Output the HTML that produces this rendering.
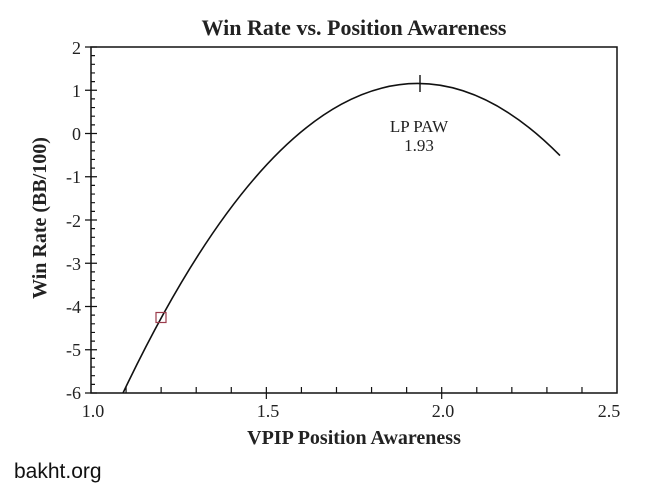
<!DOCTYPE html>
<html><head><style>body{margin:0;background:#fff}svg{display:block}</style></head><body>
<svg width="650" height="492" viewBox="0 0 650 492" xmlns="http://www.w3.org/2000/svg">
<rect width="650" height="492" fill="#fff"/>
<text x="354" y="35" font-family="Liberation Serif" font-weight="bold" font-size="22" text-anchor="middle" fill="#222">Win Rate vs. Position Awareness</text>
<rect x="91" y="47" width="526" height="346" fill="none" stroke="#111" stroke-width="1.5"/>
<g stroke="#111" stroke-width="1.2">
<path d="M85 47H97M85 90.25H97M85 133.5H97M85 176.75H97M85 220H97M85 263.25H97M85 306.5H97M85 349.75H97M85 393H97"/>
<path d="M91 55.65h4M91 64.3h4M91 72.95h4M91 81.6h4M91 98.9h4M91 107.55h4M91 116.2h4M91 124.85h4M91 142.15h4M91 150.8h4M91 159.45h4M91 168.1h4M91 185.4h4M91 194.05h4M91 202.7h4M91 211.35h4M91 228.65h4M91 237.3h4M91 245.95h4M91 254.6h4M91 271.9h4M91 280.55h4M91 289.2h4M91 297.85h4M91 315.15h4M91 323.8h4M91 332.45h4M91 341.1h4M91 358.4h4M91 367.05h4M91 375.7h4M91 384.35h4"/>
<path d="M266.35 387V399M441.7 387V399"/>
<path d="M126.07 393v-6M161.14 393v-6M196.21 393v-6M231.28 393v-6M301.42 393v-6M336.49 393v-6M371.56 393v-6M406.63 393v-6M476.77 393v-6M511.84 393v-6M546.91 393v-6M581.98 393v-6"/>
</g>
<g font-family="Liberation Serif" font-size="18" fill="#222" text-anchor="end">
<text x="81" y="54">2</text><text x="81" y="97">1</text><text x="81" y="140">0</text><text x="81" y="183">-1</text><text x="81" y="227">-2</text><text x="81" y="270">-3</text><text x="81" y="313">-4</text><text x="81" y="356">-5</text><text x="81" y="399">-6</text>
</g>
<g font-family="Liberation Serif" font-size="18" fill="#222" text-anchor="middle">
<text x="93" y="417">1.0</text><text x="268" y="417">1.5</text><text x="443" y="417">2.0</text><text x="609" y="417">2.5</text>
</g>
<text x="354" y="444" font-family="Liberation Serif" font-weight="bold" font-size="20" text-anchor="middle" fill="#222">VPIP Position Awareness</text>
<text transform="translate(46,218) rotate(-90)" font-family="Liberation Serif" font-weight="bold" font-size="20" text-anchor="middle" fill="#222">Win Rate (BB/100)</text>
<path d="M123 393Q341.4 -65.9 560 155.6" fill="none" stroke="#111" stroke-width="1.6"/>
<path d="M420 75V92" stroke="#111" stroke-width="1.4"/>
<rect x="156" y="312.5" width="10" height="10" fill="none" stroke="#9b3b4b" stroke-width="1.2"/>
<text x="419" y="132" font-family="Liberation Serif" font-size="17" text-anchor="middle" fill="#222">LP PAW</text>
<text x="419" y="151" font-family="Liberation Serif" font-size="17" text-anchor="middle" fill="#222">1.93</text>
<text x="14" y="478" font-family="Liberation Sans" font-size="21" fill="#111">bakht.org</text>
</svg>
</body></html>
